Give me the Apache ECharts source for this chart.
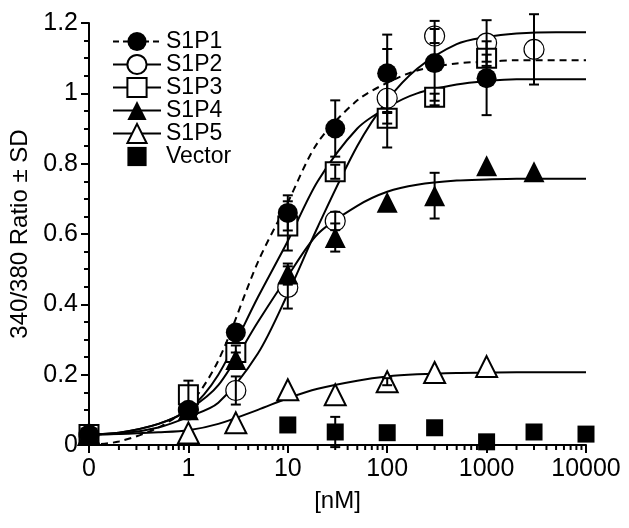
<!DOCTYPE html>
<html>
<head>
<meta charset="utf-8">
<script src="https://cdn.jsdelivr.net/npm/echarts@6/dist/echarts.min.js"></script>
<style>html,body{margin:0;padding:0;background:#fff}#c{width:629px;height:528px}</style>
</head>
<body>
<div id="c"></div>
<script>
// ---- data (dose in nM; dose 0 is drawn at the axis origin labelled "0") ----
const ZERO_POS = 0.1;
const xTickLabels = ['0', '1', '10', '100', '1000', '10000'];
const yTickLabels = ['0', '0.2', '0.4', '0.6', '0.8', '1', '1.2'];

const s1p1X  = [0, 1, 3, 10, 30, 100, 300, 1000];
const s1p1Y  = [0.03, 0.10, 0.32, 0.66, 0.90, 1.057, 1.086, 1.043];
const s1p1SD = [0, 0, 0, 0.05, 0.08, 0.11, 0.12, 0.105];

const s1p2X  = [0, 1, 3, 10, 30, 100, 300, 1000, 3000];
const s1p2Y  = [0.03, 0.10, 0.155, 0.448, 0.637, 0.986, 1.163, 1.143, 1.125];
const s1p2SD = [0, 0, 0.04, 0.06, 0.026, 0.14, 0.02, 0.065, 0.10];

const s1p3X  = [0, 1, 3, 10, 30, 100, 300, 1000];
const s1p3Y  = [0.03, 0.143, 0.263, 0.623, 0.777, 0.929, 0.989, 1.10];
const s1p3SD = [0, 0.04, 0.02, 0.07, 0.02, 0.015, 0.01, 0.01];

const s1p4X  = [0, 1, 3, 10, 30, 100, 300, 1000, 3000];
const s1p4Y  = [0.03, 0.10, 0.243, 0.486, 0.59, 0.69, 0.709, 0.794, 0.777];
const s1p4SD = [0, 0, 0.02, 0.03, 0.04, 0, 0.065, 0, 0];

const s1p5X  = [0, 1, 3, 10, 30, 100, 300, 1000];
const s1p5Y  = [0.03, 0.034, 0.063, 0.157, 0.143, 0.18, 0.206, 0.223];
const s1p5SD = [0, 0, 0, 0, 0, 0.01, 0, 0];

const vecX  = [0, 10, 30, 100, 300, 1000, 3000, 10000];
const vecY  = [0.025, 0.057, 0.037, 0.035, 0.049, 0.009, 0.037, 0.031];
const vecSD = [0, 0, 0.043, 0, 0.015, 0, 0, 0];

// fitted curves
const fitX    = [0, 0.2, 0.5, 1, 2, 5, 10, 20, 50, 100, 200, 500, 1000, 2000, 5000, 10000];
const fitS1P1 = [0.0, 0.01, 0.05, 0.11, 0.24, 0.52, 0.69, 0.86, 0.98, 1.03, 1.065, 1.085, 1.09, 1.094, 1.094, 1.094];
const fitS1P2 = [0.03, 0.032, 0.05, 0.08, 0.12, 0.26, 0.43, 0.62, 0.85, 0.98, 1.07, 1.14, 1.16, 1.17, 1.174, 1.174];
const fitS1P3 = [0.03, 0.035, 0.06, 0.10, 0.20, 0.42, 0.58, 0.75, 0.90, 0.96, 1.00, 1.025, 1.035, 1.04, 1.04, 1.04];
const fitS1P4 = [0.03, 0.035, 0.06, 0.10, 0.17, 0.35, 0.48, 0.60, 0.68, 0.72, 0.74, 0.752, 0.755, 0.757, 0.757, 0.757];
const fitS1P5 = [0.03, 0.031, 0.036, 0.042, 0.06, 0.10, 0.133, 0.16, 0.183, 0.195, 0.201, 0.205, 0.206, 0.207, 0.207, 0.207];

// ---- build ----
const pos = x => (x === 0 ? ZERO_POS : x);
const pts = (xs, ys) => xs.map((x, i) => [pos(x), ys[i]]);
const bars = (xs, ys, sds) => xs.map((x, i) => [pos(x), ys[i], sds[i]]).filter(d => d[2] > 0);

const FONT = 'Liberation Sans, Arial, Helvetica, sans-serif';
const BLACK = '#000';

// minor ticks for log x axis (2..9 per decade)
const minorTicks = [];
for (let e = -1; e < 4; e++) for (let m = 2; m <= 9; m++) minorTicks.push(m * Math.pow(10, e));

const openStyle = (w) => ({ color: '#fff', borderColor: BLACK, borderWidth: w, opacity: 1 });
const fillStyle = { color: BLACK, borderColor: BLACK, borderWidth: 0, opacity: 1 };

function fitSeries(name, ys, dashed) {
  return {
    name: name, type: 'line', data: pts(fitX, ys), showSymbol: false, symbol: 'none',
    smooth: 0.3, silent: true, z: 2,
    lineStyle: { color: BLACK, width: 2, type: dashed ? [7, 5] : 'solid' }
  };
}
function ptSeries(name, xs, ys, symbol, size, style, z) {
  return { name: name, type: 'scatter', data: pts(xs, ys), symbol: symbol, symbolSize: size,
           itemStyle: style, z: z, silent: true };
}
function errSeries(name, xs, ys, sds) {
  return {
    name: name, type: 'custom', data: bars(xs, ys, sds), z: 10, clip: false, silent: true,
    renderItem: function (params, api) {
      const x = api.value(0), y = api.value(1), sd = api.value(2);
      const t = api.coord([x, y + sd]), b = api.coord([x, y - sd]);
      const hw = 5;
      const st = { stroke: BLACK, lineWidth: 2 };
      return { type: 'group', children: [
        { type: 'line', shape: { x1: t[0], y1: t[1], x2: b[0], y2: b[1] }, style: st },
        { type: 'line', shape: { x1: t[0] - hw, y1: t[1], x2: t[0] + hw, y2: t[1] }, style: st },
        { type: 'line', shape: { x1: b[0] - hw, y1: b[1], x2: b[0] + hw, y2: b[1] }, style: st }
      ]};
    }
  };
}
function legendSeries(name, symbol, style, dashed, noLine) {
  return { name: name, type: 'line', data: [], symbol: symbol, itemStyle: style,
           lineStyle: { color: BLACK, width: 2, type: dashed ? [6, 4] : 'solid', opacity: noLine ? 0 : 1 } };
}

const chart = echarts.init(document.getElementById('c'), null, { renderer: 'canvas' });
chart.setOption({
  backgroundColor: '#fff',
  animation: false,
  grid: { left: 87, right: 43, top: 23, bottom: 83, containLabel: false },
  legend: {
    data: ['S1P1', 'S1P2', 'S1P3', 'S1P4', 'S1P5', 'Vector'],
    orient: 'vertical', left: 107, top: 25, itemWidth: 48, itemHeight: 24, itemGap: 0,
    selectedMode: false,
    textStyle: { fontFamily: FONT, fontSize: 23, color: BLACK, padding: [0, 0, 0, 0] }
  },
  xAxis: {
    type: 'log', logBase: 10, min: ZERO_POS, max: 10000,
    name: '[nM]', nameLocation: 'middle', nameGap: 44,
    nameTextStyle: { fontFamily: FONT, fontSize: 24, color: BLACK },
    axisLine: { show: true, onZero: false, lineStyle: { color: BLACK, width: 2 } },
    axisTick: { show: true, inside: false, length: 8, lineStyle: { color: BLACK, width: 2 } },
    minorTick: { show: false },
    splitLine: { show: false },
    axisLabel: {
      margin: 12, fontFamily: FONT, fontSize: 25, color: BLACK,
      formatter: function (v) {
        const k = Math.round(Math.log10(v)) + 1;
        return xTickLabels[k] !== undefined ? xTickLabels[k] : '';
      }
    }
  },
  yAxis: {
    type: 'value', min: 0, max: 1.2, interval: 0.2,
    name: '340/380 Ratio \u00b1 SD', nameLocation: 'middle', nameGap: 57, nameRotate: 90,
    nameTextStyle: { fontFamily: FONT, fontSize: 24, color: BLACK },
    axisLine: { show: true, lineStyle: { color: BLACK, width: 2 } },
    axisTick: { show: true, inside: false, length: 8, lineStyle: { color: BLACK, width: 2 } },
    minorTick: { show: true, splitNumber: 4, length: 5, lineStyle: { color: BLACK, width: 2 } },
    splitLine: { show: false },
    axisLabel: {
      margin: 11, fontFamily: FONT, fontSize: 25, color: BLACK,
      formatter: function (v) { return yTickLabels[Math.round(v / 0.2)]; }
    }
  },
  series: [
    legendSeries('S1P1', 'circle', fillStyle, true),
    legendSeries('S1P2', 'circle', openStyle(1.2)),
    legendSeries('S1P3', 'rect', openStyle(2)),
    legendSeries('S1P4', 'triangle', fillStyle),
    legendSeries('S1P5', 'triangle', openStyle(2)),
    legendSeries('Vector', 'rect', fillStyle, false, true),

    {
      name: 'minorTicks', type: 'custom', data: minorTicks.map(v => [v, 0]), clip: false, silent: true, z: 3,
      renderItem: function (params, api) {
        const p = api.coord([api.value(0), 0]);
        return { type: 'line', shape: { x1: p[0], y1: p[1], x2: p[0], y2: p[1] + 5 },
                 style: { stroke: BLACK, lineWidth: 2 } };
      }
    },

    fitSeries('fit1', fitS1P1, true),
    fitSeries('fit2', fitS1P2),
    fitSeries('fit3', fitS1P3),
    fitSeries('fit4', fitS1P4),
    fitSeries('fit5', fitS1P5),

    ptSeries('p2', s1p2X, s1p2Y, 'circle', 20, openStyle(1.2), 4),
    ptSeries('p3', s1p3X, s1p3Y, 'rect', 19, openStyle(2), 5),
    ptSeries('p5', s1p5X, s1p5Y, 'triangle', 21, openStyle(2), 5),
    ptSeries('p1', s1p1X, s1p1Y, 'circle', 20, fillStyle, 6),
    ptSeries('p4', s1p4X, s1p4Y, 'triangle', 21, fillStyle, 6),
    ptSeries('pv', vecX, vecY, 'rect', 17, fillStyle, 6),

    errSeries('e1', s1p1X, s1p1Y, s1p1SD),
    errSeries('e2', s1p2X, s1p2Y, s1p2SD),
    errSeries('e3', s1p3X, s1p3Y, s1p3SD),
    errSeries('e4', s1p4X, s1p4Y, s1p4SD),
    errSeries('e5', s1p5X, s1p5Y, s1p5SD),
    errSeries('ev', vecX, vecY, vecSD)
  ]
});
</script>
</body>
</html>
